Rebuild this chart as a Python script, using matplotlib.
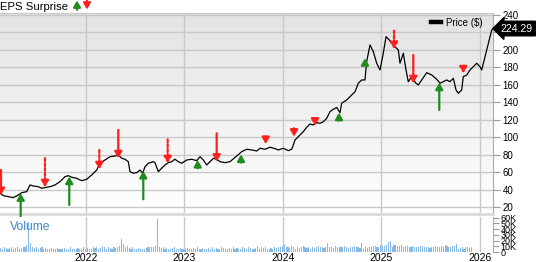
import numpy as np
import matplotlib.pyplot as plt
from matplotlib.colors import LinearSegmentedColormap

plt.rcParams['font.family'] = ['Liberation Sans', 'DejaVu Sans']

# 股价（读图所得，年份为小数）
years = [2021.126, 2021.160, 2021.211, 2021.261, 2021.312, 2021.347, 2021.397, 2021.431,
         2021.464, 2021.515, 2021.550, 2021.601, 2021.634, 2021.685, 2021.736, 2021.787,
         2021.820, 2021.855, 2021.905, 2021.956, 2022.007, 2022.058, 2022.109, 2022.142,
         2022.193, 2022.244, 2022.295, 2022.328, 2022.363, 2022.396, 2022.430, 2022.447,
         2022.481, 2022.515, 2022.549, 2022.576, 2022.600, 2022.633, 2022.684, 2022.701,
         2022.735, 2022.769, 2022.803, 2022.836, 2022.871, 2022.904, 2022.938, 2022.973,
         2023.023, 2023.074, 2023.125, 2023.159, 2023.192, 2023.227, 2023.260, 2023.294,
         2023.328, 2023.362, 2023.413, 2023.463, 2023.532, 2023.582, 2023.633, 2023.684,
         2023.735, 2023.768, 2023.819, 2023.870, 2023.921, 2023.954, 2024.005, 2024.056,
         2024.090, 2024.107, 2024.124, 2024.158, 2024.208, 2024.243, 2024.276, 2024.310,
         2024.345, 2024.378, 2024.412, 2024.446, 2024.480, 2024.513, 2024.548, 2024.581,
         2024.598, 2024.649, 2024.700, 2024.734, 2024.767, 2024.802, 2024.835, 2024.852,
         2024.886, 2024.920, 2024.954, 2024.988, 2025.021, 2025.049, 2025.082, 2025.107,
         2025.140, 2025.174, 2025.191, 2025.225, 2025.252, 2025.275, 2025.310, 2025.326,
         2025.354, 2025.377, 2025.412, 2025.462, 2025.513, 2025.564, 2025.598, 2025.631,
         2025.666, 2025.699, 2025.733, 2025.760, 2025.784, 2025.818, 2025.834, 2025.869,
         2025.902, 2025.936, 2025.971, 2026.004, 2026.021, 2026.055, 2026.089, 2026.123,
         2026.136]
price = [36.0, 33.3, 32.1, 31.0, 34.0, 36.7, 37.8, 45.5,
         44.3, 43.5, 41.7, 42.9, 43.5, 45.5, 49.3, 55.0,
         56.1, 54.3, 53.1, 50.4, 52.0, 56.9, 62.6, 70.3,
         74.0, 77.8, 78.6, 79.8, 76.0, 74.9, 72.1, 60.7,
         58.9, 59.5, 62.6, 58.9, 66.4, 70.3, 72.1, 71.0,
         60.7, 64.6, 68.3, 71.0, 72.1, 74.9, 72.1, 70.3,
         74.0, 74.9, 73.3, 77.8, 74.0, 68.3, 72.1, 76.0,
         74.9, 72.1, 71.0, 72.1, 78.6, 83.5, 86.3, 85.5,
         84.3, 87.4, 86.3, 88.6, 87.0, 85.5, 87.4, 84.7,
         86.3, 91.2, 96.9, 100.7, 106.4, 111.4, 115.2, 114.1,
         116.7, 116.0, 117.8, 121.7, 129.3, 132.0, 134.0, 128.0,
         138.9, 142.6, 148.3, 152.1, 161.7, 165.5, 165.5, 186.4,
         205.5, 197.8, 184.6, 176.9, 196.0, 215.0, 211.2, 207.4,
         203.5, 199.8, 184.6, 196.0, 176.9, 163.5, 169.3, 165.5,
         161.7, 159.8, 165.5, 173.8, 171.2, 166.3, 161.7, 163.5,
         165.5, 163.5, 167.4, 154.1, 150.3, 154.1, 169.3, 171.2,
         176.9, 180.7, 184.6, 180.7, 176.9, 192.1, 207.4, 222.6,
         224.29]
last_price = 224.29

# EPS 惊喜箭头：年份、箭头尖端价格、箭尾价格、是否超预期、是否虚线
eps_year = [2021.136, 2021.336, 2021.583, 2021.830, 2022.135, 2022.328, 2022.582,
            2022.830, 2023.135, 2023.328, 2023.575, 2023.826, 2024.114, 2024.327,
            2024.571, 2024.835, 2025.130, 2025.326, 2025.590, 2025.834]
eps_tip = [34.0, 36.0, 42.9, 55.0, 63.4, 76.0, 61.5, 70.3, 74.0, 72.1,
           80.3, 92.3, 100.7, 113.3, 128.1, 190.3, 200.9, 161.7, 162.4, 173.1]
eps_tail = [62.6, 3.5, 76.0, 22.6, 85.5, 108.3, 29.1, 97.7, 64.6, 104.6,
            71.0, 100.9, 110.3, 121.7, 119.0, 183.8, 221.8, 194.0, 131.2, 181.5]
eps_beat = [False, True, False, True, False, False, True, False, True, False,
            True, False, False, False, True, True, False, False, True, False]
eps_dashed = [False, False, True, False, True, False, False, True, False, False,
              False, False, False, False, False, False, True, False, False, True]

# 成交量（千股，每周）
volume = [7, 6, 8, 7, 6, 7, 9, 6, 7, 8,
          6, 7, 9, 8, 12, 53, 15, 9, 7, 8,
          6, 7, 8, 6, 7, 5, 6, 7, 6, 5,
          7, 6, 5, 6, 7, 5, 6, 8, 6, 5,
          6, 7, 5, 6, 9, 6, 7, 5, 6, 8,
          7, 9, 6, 7, 10, 8, 6, 9, 7, 6,
          8, 7, 9, 10, 23, 14, 9, 11, 7, 6,
          8, 6, 5, 7, 6, 5, 6, 7, 8, 9,
          9, 9, 10, 57, 9, 7, 8, 6, 7, 5,
          6, 7, 8, 6, 5, 7, 6, 5, 6, 7,
          6, 5, 7, 6, 8, 5, 6, 7, 5, 6,
          7, 6, 9, 6, 7, 5, 6, 8, 7, 6,
          5, 7, 6, 8, 6, 7, 5, 6, 9, 7,
          6, 8, 7, 6, 5, 7, 10, 6, 8, 7,
          9, 6, 5, 7, 6, 8, 7, 9, 8, 10,
          14, 8, 9, 7, 10, 8, 6, 9, 7, 8,
          10, 9, 7, 8, 6, 9, 7, 8, 10, 9,
          8, 7, 9, 15, 8, 9, 7, 10, 9, 8,
          9, 8, 10, 9, 7, 8, 9, 10, 8, 9,
          7, 16, 6, 8, 7, 9, 8, 10, 11, 9,
          8, 12, 11, 10, 13, 17, 20, 9, 12, 13,
          11, 10, 12, 9, 11, 10, 9, 8, 10, 9,
          8, 9, 10, 11, 9, 8, 9, 7, 8, 9,
          10, 9, 8, 10, 9, 12, 10, 8, 9, 11,
          10, 14, 6, 7, 8, 6, 9, 8, 7, 9]
vol_start = 2021.13
vol_years = vol_start + np.arange(len(volume)) / 52.0

year_ticks = [2022, 2023, 2024, 2025, 2026]
price_ticks = list(range(20, 241, 20))
# 220 的刻度标签被最新价标签遮住
price_labels = ['' if v == 220 else str(v) for v in price_ticks]
vol_ticks = [0, 10, 20, 30, 40, 50, 60]
vol_labels = ['0', '10K', '20K', '30K', '40K', '50K', '60K']

W, H = 538, 262
fig = plt.figure(figsize=(W / 100, H / 100), dpi=100)


def box(l, t, r, b):
    return [l / W, 1 - b / H, (r - l) / W, (b - t) / H]


ax = fig.add_axes(box(0, 12.5, 493, 214))
axv = fig.add_axes(box(0, 216.5, 493, 252), sharex=ax)

grid_c = '#c8c8c8'
arrow_style = '-|>,head_length=0.38,head_width=0.22'

# 价格面板背景渐变
bg = LinearSegmentedColormap.from_list('bg', ['#ffffff', '#e3e3e3'])
ax.imshow(np.linspace(0, 1, 256).reshape(-1, 1), extent=[0, 1, 0, 1],
          transform=ax.transAxes, cmap=bg, aspect='auto', origin='lower', zorder=0)

ax.plot(years, price, color='black', lw=0.9, zorder=3)

for yr, tip, tail, beat, dashed in zip(eps_year, eps_tip, eps_tail, eps_beat, eps_dashed):
    c = '#1e8c1e' if beat else '#ff1f1f'
    ls = (0, (1.3, 0.9)) if dashed else '-'
    ax.annotate('', xy=(yr, tip), xytext=(yr, tail), annotation_clip=False,
                arrowprops=dict(arrowstyle=arrow_style, color=c, lw=1.6, linestyle=ls,
                                shrinkA=0, shrinkB=0, mutation_scale=10), zorder=4)

ax.set_xlim(2021.126, 2026.136)
ax.set_ylim(12.3, 242.6)
ax.set_yticks(price_ticks)
ax.set_yticklabels(price_labels)
ax.set_xticks(year_ticks)
ax.grid(True, color=grid_c, lw=1)
ax.yaxis.tick_right()
ax.tick_params(axis='y', direction='out', length=5, color='#999999', labelsize=7, pad=2)
ax.tick_params(axis='x', length=0, labelbottom=False)
ax.spines['left'].set_visible(False)
ax.spines['top'].set_color(grid_c)
ax.spines['right'].set_color('#aaaaaa')
ax.spines['bottom'].set_color('#dcdcdc')
ax.spines['bottom'].set_linewidth(2.2)

ax.legend(handles=[plt.Line2D([], [], color='black', lw=3.2)], labels=['Price ($)'],
          loc='upper right', bbox_to_anchor=(0.979, 0.975), frameon=False,
          fontsize=7, handlelength=1.0, handletextpad=0.5, borderpad=0, borderaxespad=0)

ax.text(1.016, last_price, '224.29', transform=ax.get_yaxis_transform(),
        ha='left', va='center', color='white', fontsize=7.5, zorder=5, clip_on=False,
        bbox=dict(boxstyle='larrow,pad=0.22', fc='black', ec='black'))

# 成交量面板
axv.bar(vol_years, volume, width=0.6 / 52, color='#8ab8e4', zorder=2)
axv.set_ylim(0, 62)
axv.set_yticks(vol_ticks)
axv.set_yticklabels(vol_labels)
axv.yaxis.tick_right()
axv.tick_params(axis='y', direction='out', length=4, color='#999999', labelsize=6.5, pad=1.5)
axv.tick_params(axis='x', length=0, labelsize=7.5, pad=0.8)
axv.grid(True, axis='x', color=grid_c, lw=1)
for s in ['left', 'top', 'bottom']:
    axv.spines[s].set_visible(False)
axv.spines['right'].set_color('#aaaaaa')
axv.text(0.02, 0.7, 'Volume', transform=axv.transAxes, color='#3d85c6',
         fontsize=8.7, va='center')

# 标题
fig.text(0, 1 - 9.5 / H, 'EPS Surprise', fontsize=8.2, va='baseline')
fig.add_artist(plt.Annotation('', xy=(77, H - 0.5), xytext=(77, H - 10),
                              xycoords='figure pixels',
                              arrowprops=dict(arrowstyle=arrow_style, color='#1e8c1e', lw=1.5,
                                              shrinkA=0, shrinkB=0, mutation_scale=10)))
fig.add_artist(plt.Annotation('', xy=(87, H - 9.5), xytext=(87, H),
                              xycoords='figure pixels',
                              arrowprops=dict(arrowstyle=arrow_style, color='#ff1f1f', lw=1.5,
                                              shrinkA=0, shrinkB=0, mutation_scale=10)))

fig.savefig('out.png', dpi=100)
